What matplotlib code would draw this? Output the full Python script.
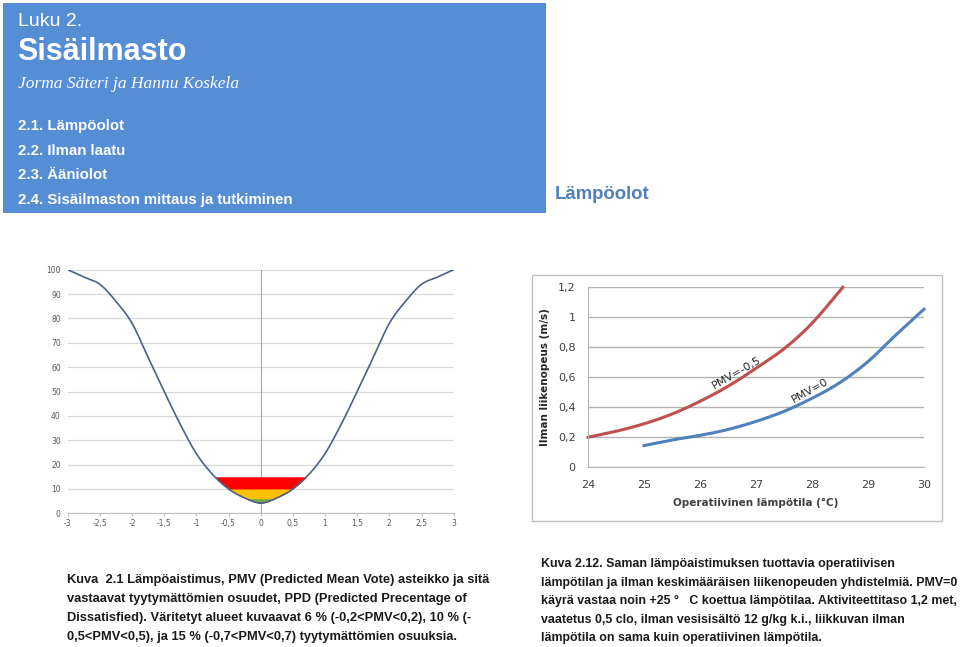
import matplotlib
matplotlib.use("Agg")
import matplotlib.pyplot as plt
import numpy as np
from matplotlib.patches import Rectangle

# PPD (%) as a function of PMV
pmv = [-3, -2.75, -2.5, -2.25, -2, -1.75, -1.5, -1.25, -1, -0.75, -0.5, -0.25, 0,
       0.25, 0.5, 0.75, 1, 1.25, 1.5, 1.75, 2, 2.25, 2.5, 2.75, 3]
ppd = [100, 97, 94, 87, 78, 64, 50, 36.5, 24.5, 16, 10, 6.3, 4.2,
       6.3, 10, 16, 24.5, 36.5, 50, 64, 78, 87, 94, 97, 100]
bands = [15, 10, 6]  # dissatisfied shares (%)
band_colors = ["#ff0000", "#ffc000", "#70ad47"]
pmv_ticks = [-3, -2.5, -2, -1.5, -1, -0.5, 0, 0.5, 1, 1.5, 2, 2.5, 3]
pmv_labels = ["-3", "-2,5", "-2", "-1,5", "-1", "-0,5", "0", "0,5", "1", "1,5", "2", "2,5", "3"]
ppd_ticks = [0, 10, 20, 30, 40, 50, 60, 70, 80, 90, 100]

# air velocity (m/s) vs operative temperature (C), right chart
t_red = [24, 24.5, 25, 25.5, 26, 26.5, 27, 27.5, 28, 28.55]
v_red = [0.20, 0.24, 0.29, 0.355, 0.44, 0.54, 0.66, 0.79, 0.96, 1.20]
t_blue = [25, 25.5, 26, 26.5, 27, 27.5, 28, 28.5, 29, 29.5, 30]
v_blue = [0.145, 0.182, 0.213, 0.252, 0.306, 0.373, 0.46, 0.565, 0.705, 0.883, 1.054]
t_ticks = [24, 25, 26, 27, 28, 29, 30]
v_ticks = [0, 0.2, 0.4, 0.6, 0.8, 1.0, 1.2]
v_labels = ["0", "0,2", "0,4", "0,6", "0,8", "1", "1,2"]

W, H = 960, 647


def fx(x):
    return x / W


def fy(y):
    return 1 - y / H


def smooth(x, y, n=20):
    # Catmull-Rom spline through the points, like Excel's smoothed line
    p = np.column_stack([x, y]).astype(float)
    p = np.vstack([p[0], p, p[-1]])
    out = []
    for i in range(1, len(p) - 2):
        p0, p1, p2, p3 = p[i - 1], p[i], p[i + 1], p[i + 2]
        t = np.linspace(0, 1, n, endpoint=False)[:, None]
        out.append(0.5 * (2 * p1 + (-p0 + p2) * t + (2 * p0 - 5 * p1 + 4 * p2 - p3) * t ** 2
                          + (-p0 + 3 * p1 - 3 * p2 + p3) * t ** 3))
    out.append(p[-2][None, :])
    out = np.vstack(out)
    return out[:, 0], out[:, 1]


fig = plt.figure(figsize=(9.6, 6.47), dpi=100)

# header box
fig.patches.append(Rectangle((fx(3), fy(213)), fx(543), 210 / H, transform=fig.transFigure,
                             facecolor="#558ed5", edgecolor="none", zorder=-1))
hdr = dict(color="white", family=["Liberation Sans", "DejaVu Sans"], va="center", ha="left")
fig.text(fx(18), fy(21), "Luku 2.", fontsize=14, **hdr)
fig.text(fx(17), fy(52), "Sisäilmasto", fontsize=22, fontweight="bold", **hdr)
fig.text(fx(18), fy(84), "Jorma Säteri ja Hannu Koskela", fontsize=12.5, style="italic",
         color="white", family=["Liberation Serif", "DejaVu Serif"], va="center", ha="left")
for i, item in enumerate(["2.1. Lämpöolot", "2.2. Ilman laatu", "2.3. Ääniolot",
                          "2.4. Sisäilmaston mittaus ja tutkiminen"]):
    fig.text(fx(18), fy(126 + i * 24.7), item, fontsize=10.8, fontweight="bold", **hdr)

fig.text(fx(555), fy(195), "Lämpöolot", fontsize=13.3, fontweight="bold", color="#4f7fbd",
         family=["Liberation Sans", "DejaVu Sans"], va="center", ha="left")

# left chart: PPD vs PMV
ax1 = fig.add_axes([fx(67.7), fy(513.3), (453.7 - 67.7) / W, (513.3 - 269.7) / H])
xs, ys = smooth(pmv, ppd)
for lvl, col in zip(bands, band_colors):
    ax1.fill_between(xs, ys, lvl, where=ys <= lvl, interpolate=True, color=col, lw=0, zorder=2)
ax1.plot(xs, ys, color="#4a6285", lw=1.2, zorder=3)
ax1.axvline(0, color="#a6a6a6", lw=0.8, zorder=1)
ax1.set_xlim(-3, 3)
ax1.set_ylim(0, 100)
ax1.set_xticks(pmv_ticks)
ax1.set_xticklabels(pmv_labels)
ax1.set_yticks(ppd_ticks)
ax1.grid(axis="y", color="#d9d9d9", lw=0.9)
ax1.set_axisbelow(True)
for s in ["top", "right", "left"]:
    ax1.spines[s].set_visible(False)
ax1.spines["bottom"].set_color("#bfbfbf")
ax1.tick_params(axis="x", length=2, color="#bfbfbf", labelsize=5.5, labelcolor="#595959", pad=2)
ax1.tick_params(axis="y", length=0, labelsize=5.5, labelcolor="#595959", pad=5)

# right chart: air velocity vs operative temperature
fig.patches.append(Rectangle((fx(532), fy(521)), 410 / W, 246 / H, transform=fig.transFigure,
                             facecolor="none", edgecolor="#bfbfbf", lw=1, zorder=-1))
ax2 = fig.add_axes([fx(588), fy(467.3), (924 - 588) / W, (467.3 - 287.3) / H])
tr, vr = smooth(t_red, v_red)
tb, vb = smooth(t_blue, v_blue)
ax2.plot(tr, vr, color="#c0504d", lw=2.2, clip_on=False)
ax2.plot(tb, vb, color="#4f81bd", lw=2.2, clip_on=False)
ax2.set_xlim(24, 30)
ax2.set_ylim(0, 1.2)
ax2.set_xticks(t_ticks)
ax2.set_yticks(v_ticks)
ax2.set_yticklabels(v_labels)
ax2.grid(axis="y", color="#b3b3b3", lw=1)
ax2.set_axisbelow(True)
for s in ["top", "right"]:
    ax2.spines[s].set_visible(False)
for s in ["left", "bottom"]:
    ax2.spines[s].set_color("#b3b3b3")
ax2.tick_params(length=0, labelsize=8, labelcolor="#404040", pad=9)
ax2.set_xlabel("Operatiivinen lämpötila (°C)", fontsize=7.5, fontweight="bold",
               color="#404040", labelpad=6)
ax2.set_ylabel("Ilman liikenopeus (m/s)", fontsize=7.5, fontweight="bold",
               color="#262626", labelpad=6)
ax2.text(26.66, 0.63, "PMV=-0,5", rotation=30, fontsize=8, ha="center", va="center", color="#262626")
ax2.text(27.96, 0.51, "PMV=0", rotation=29, fontsize=8, ha="center", va="center", color="#262626")

# captions
cap = dict(fontweight="bold", color="#1a1a1a",
           family=["Liberation Sans", "DejaVu Sans"], va="center", ha="left")
cap1 = ["Kuva  2.1 Lämpöaistimus, PMV (Predicted Mean Vote) asteikko ja sitä",
        "vastaavat tyytymättömien osuudet, PPD (Predicted Precentage of",
        "Dissatisfied). Väritetyt alueet kuvaavat 6 % (-0,2<PMV<0,2), 10 % (-",
        "0,5<PMV<0,5), ja 15 % (-0,7<PMV<0,7) tyytymättömien osuuksia."]
for i, line in enumerate(cap1):
    fig.text(fx(67), fy(580 + i * 19), line, fontsize=9.3, **cap)
cap2 = ["Kuva 2.12. Saman lämpöaistimuksen tuottavia operatiivisen",
        "lämpötilan ja ilman keskimääräisen liikenopeuden yhdistelmiä. PMV=0",
        "käyrä vastaa noin +25 °   C koettua lämpötilaa. Aktiviteettitaso 1,2 met,",
        "vaatetus 0,5 clo, ilman vesisisältö 12 g/kg k.i., liikkuvan ilman",
        "lämpötila on sama kuin operatiivinen lämpötila."]
for i, line in enumerate(cap2):
    fig.text(fx(541), fy(564 + i * 18.6), line, fontsize=8.9, **cap)

fig.savefig("out.png", dpi=100)
